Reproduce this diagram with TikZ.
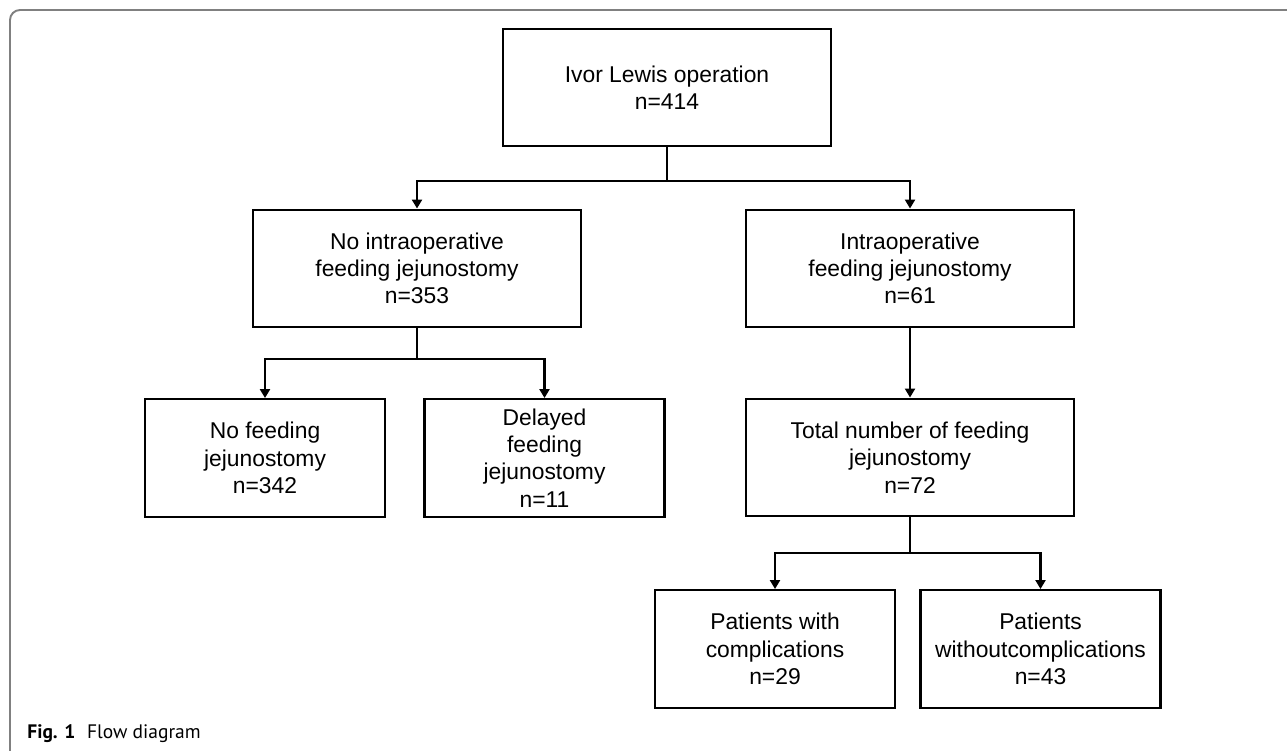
\documentclass[tikz,border=0pt]{standalone}
\usepackage{fontspec}
\setmainfont{Liberation Sans}
\newfontfamily\capfont{PT Sans}
\usetikzlibrary{arrows.meta}

\tikzset{
  bigbox/.style={draw, line width=1.4pt, minimum width=6.56cm, minimum height=2.35cm,
    inner sep=0pt, align=center, font=\fontsize{13}{15.5}\selectfont},
  smallbox/.style={bigbox, minimum width=4.8cm},
  arr/.style={line width=1.4pt, -{Triangle[length=0.18cm,width=0.2cm]}},
  link/.style={line width=1.4pt}
}

\begin{document}
\begin{tikzpicture}[x=0.02cm,y=-0.02cm]
        \useasboundingbox (0,0) rectangle (1287,750);

        % outer frame
        \draw [gray, line width=1.1pt, rounded corners=0.2cm] (10,752) -- (10,10) -- (1289,10);

        \node [bigbox] (ivor) at (667,87.5) {Ivor Lewis operation\\n=414};
        \node [bigbox] (noiop) at (417,268.5) {No intraoperative\\feeding jejunostomy\\n=353};
        \node [bigbox] (iop) at (910,268.5) {Intraoperative\\feeding jejunostomy\\n=61};
        \node [smallbox] (nofeed) at (265,458) {No feeding\\jejunostomy\\n=342};
        \node [smallbox] (delayed) at (544.5,458) {Delayed\\feeding\\jejunostomy\\n=11};
        \node [bigbox] (total) at (910,457.5) {Total number of feeding\\jejunostomy\\n=72};
        \node [smallbox] (withc) at (775,649) {Patients with\\complications\\n=29};
        \node [smallbox] (withoutc) at (1040.5,649) {Patients\\withoutcomplications\\n=43};

        \coordinate (j1) at (667,181);
        \coordinate (j2) at (417,359);
        \coordinate (j3) at (910,553);

        \draw [link] (ivor.south) -- (j1);
        \draw [arr] (j1) -| (noiop.north);
        \draw [arr] (j1) -| (iop.north);

        \draw [link] (noiop.south) -- (j2);
        \draw [arr] (j2) -| (nofeed.north);
        \draw [arr] (j2) -| (delayed.north);

        \draw [arr] (iop.south) -- (total.north);

        \draw [link] (total.south) -- (j3);
        \draw [arr] (j3) -| (withc.north);
        \draw [arr] (j3) -| (withoutc.north);

        % caption
        \node [anchor=base west, inner sep=0pt, font=\capfont\fontsize{11.1}{13}\selectfont] (cap) at (27,738.5)
          {\textbf{Fig. 1}\hspace{0.6em}Flow diagram};
\end{tikzpicture}
\end{document}
